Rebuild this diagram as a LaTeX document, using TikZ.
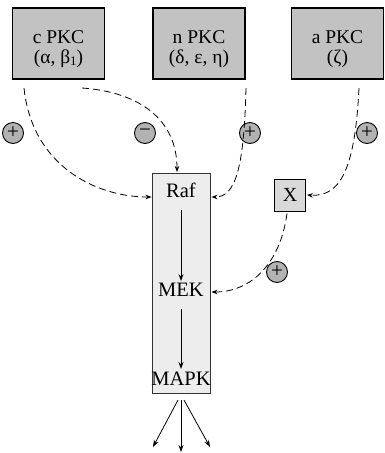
\documentclass[tikz,border=0pt]{standalone}
\usepackage{fontspec}
\setmainfont{Liberation Serif}
\usetikzlibrary{arrows.meta}
\begin{document}
\begin{tikzpicture}[x=1pt,y=-1pt,
  pkc/.style={draw=black,line width=1.3pt,fill=gray!48,minimum width=92pt,minimum height=71pt,inner sep=0pt},
  pkctext/.style={align=center,inner sep=0pt,font=\fontsize{19.5}{20}\selectfont},
  colbox/.style={draw=black!80,line width=0.9pt,fill=gray!14,minimum width=58pt,minimum height=220pt,inner sep=0pt},
  xbox/.style={draw=black,line width=0.9pt,fill=gray!30,minimum width=31pt,minimum height=32pt,inner sep=0pt,font=\fontsize{20}{20}\selectfont},
  lbl/.style={inner sep=0pt,font=\fontsize{20.5}{20}\selectfont},
  sign/.style={circle,draw=black,line width=0.9pt,fill=gray!60,minimum size=21pt,inner sep=0pt,font=\fontsize{21}{21}\selectfont},
  dsh/.style={dash pattern=on 7pt off 4pt,line width=0.8pt,-{Stealth[length=6pt,width=4.5pt]}},
  arr/.style={line width=0.8pt,-{Stealth[length=7pt,width=5pt]}}
]
\useasboundingbox (0,0) rectangle (385,453);
% top boxes
\node[pkc] (cpkc) at (58.5,43.5) {};
\node[pkc] (npkc) at (199,43.5) {};
\node[pkc] (apkc) at (337.5,43.5) {};
\node[pkctext] (cpkct) at (58.5,49) {c PKC\\(α, β\raisebox{-0.2ex}{\fontsize{13}{13}\selectfont 1})};
\node[pkctext] (npkct) at (199,49) {n PKC\\(δ, ε, η)};
\node[pkctext] (apkct) at (337.5,49) {a PKC\\(ζ)};
% column
\node[colbox] (col) at (181,283) {};
\node[lbl] (raf) at (181,190) {Raf};
\node[lbl] (mek) at (181,290) {MEK};
\node[lbl] (mapk) at (181,379) {MAPK};
\node[xbox] (x) at (290,195) {X};
% signs
\node[sign] (s1) at (13,133) {+};
\node[sign] (s2) at (145,133) {−};
\node[sign] (s3) at (250,133) {+};
\node[sign] (s4) at (367,133) {+};
\node[sign] (s5) at (277,272) {+};
% dashed connectors
\coordinate (c1) at (24,88);
\coordinate (c2) at (82,88);
\coordinate (n1) at (246,88);
\coordinate (a1) at (359,88);
\draw[dsh] (c1) .. controls (32,165) and (95,197) .. (col.west |- 0,197);
\draw[dsh] (c2) .. controls (140,92) and (177,120) .. (177,172);
\draw[dsh] (n1) .. controls (244,170) and (235,197) .. ([xshift=1pt]col.east |- 0,197);
\draw[dsh] (a1) .. controls (355,170) and (340,197) .. ([xshift=1pt]x.east);
\draw[dsh] ([xshift=-3pt,yshift=-2pt]x.south) .. controls (280,265) and (250,292) .. ([xshift=1pt]col.east |- 0,292);
% solid arrows
\draw[arr] ([yshift=-12pt]raf.south) -- ([yshift=2pt]mek.north);
\draw[arr] ([yshift=-12pt]mek.south) -- ([yshift=3pt]mapk.north);
\coordinate (out) at (181,400);
\draw[arr] ([xshift=-3pt]out) -- (153,447);
\draw[arr] (out) -- (181,452);
\draw[arr] ([xshift=3pt]out) -- (210,447);
\end{tikzpicture}
\end{document}
